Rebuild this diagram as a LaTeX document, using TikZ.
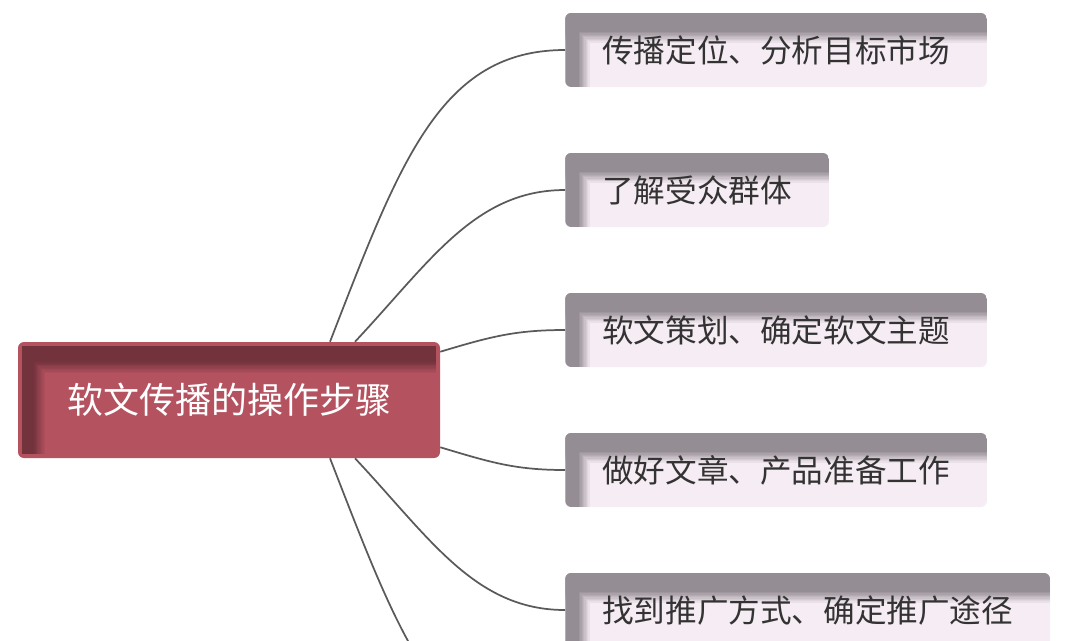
\documentclass[tikz,border=0pt]{standalone}
\usepackage{fontspec}
\setmainfont{Noto Sans CJK SC}
\usetikzlibrary{positioning}
\definecolor{rootfill}{HTML}{B4525F}
\definecolor{rootdark}{HTML}{72333D}
\definecolor{leaffill}{HTML}{F6ECF3}
\definecolor{leafgray}{HTML}{958D94}
\definecolor{leaftext}{HTML}{333333}
\definecolor{linkgray}{HTML}{5A5A5A}

\begin{document}
\begin{tikzpicture}[x=0.75pt, y=-0.75pt,
  root/.style={rounded corners=4.5pt, fill=rootfill, text=white, inner sep=0pt,
    minimum width=316.5pt, minimum height=87pt, font=\fontsize{27}{32}\selectfont,
    path picture={
      \foreach \k [evaluate=\k as \pct using int(100-11*\k)] in {0,...,8}
        \fill[rootdark!\pct!rootfill, sharp corners, blend mode=darken] ([xshift={(11+\k)*1pt},yshift=-3pt]path picture bounding box.north west) rectangle ([xshift={(12.3+\k)*1pt},yshift=3pt]path picture bounding box.south west);
      \foreach \k [evaluate=\k as \pct using int(100-11*\k)] in {0,...,8}
        \fill[rootdark!\pct!rootfill, sharp corners, blend mode=darken] ([xshift=3pt,yshift={-(14+\k)*1pt}]path picture bounding box.north west) rectangle ([xshift=-3pt,yshift={-(15.3+\k)*1pt}]path picture bounding box.north east);
      \fill[rootdark, sharp corners] ([xshift=3pt,yshift=-3pt]path picture bounding box.north west) rectangle ([xshift=11pt,yshift=3pt]path picture bounding box.south west);
      \fill[rootdark, sharp corners] ([xshift=3pt,yshift=-3pt]path picture bounding box.north west) rectangle ([xshift=-3pt,yshift=-14pt]path picture bounding box.north east);
    }},
  leaf/.style={rounded corners=4.5pt, fill=leaffill, text=leaftext, anchor=west,
    inner xsep=27.75pt, inner ysep=0pt, minimum height=55.5pt, font=\fontsize{23.7}{28}\selectfont,
    path picture={
      \foreach \k [evaluate=\k as \pct using int(100-11*\k)] in {0,...,8}
        \fill[leafgray!\pct!leaffill, sharp corners, blend mode=darken] ([xshift={(9+\k)*1pt}]path picture bounding box.north west) rectangle ([xshift={(10.3+\k)*1pt}]path picture bounding box.south west);
      \foreach \k [evaluate=\k as \pct using int(100-11*\k)] in {0,...,8}
        \fill[leafgray!\pct!leaffill, sharp corners, blend mode=darken] ([yshift={-(13+\k)*1pt}]path picture bounding box.north west) rectangle ([yshift={-(14.3+\k)*1pt}]path picture bounding box.north east);
      \fill[leafgray, sharp corners] (path picture bounding box.north west) rectangle ([xshift=9pt]path picture bounding box.south west);
      \fill[leafgray, sharp corners] (path picture bounding box.north west) rectangle ([yshift=-13pt]path picture bounding box.north east);
    }},
  link/.style={draw=linkgray, line width=1.3pt}]
  \useasboundingbox (0,0) rectangle (1069,640);

  \node[root] (root) at (229,400) {软文传播的操作步骤};
  \node[leaf] (s1) at (565,50) {传播定位、分析目标市场};
  \node[leaf] (s2) at (565,190) {了解受众群体};
  \node[leaf] (s3) at (565,330) {软文策划、确定软文主题};
  \node[leaf] (s4) at (565,470) {做好文章、产品准备工作};
  \node[leaf] (s5) at (565,610) {找到推广方式、确定推广途径};
  \coordinate (s6) at (565,751);

  % branches
  \draw[link] ([xshift=75.75pt]root.north) .. controls +(70,-180) and +(-125,0) .. (s1.west);
  \draw[link] ([xshift=94.5pt]root.north) .. controls +(75,-80) and +(-90,0) .. (s2.west);
  \draw[link] ([yshift=-7.5pt]root.north east) .. controls +(50,-15) and +(-50,0) .. (s3.west);
  \draw[link] ([yshift=8.25pt]root.south east) .. controls +(50,15) and +(-50,0) .. (s4.west);
  \draw[link] ([xshift=94.5pt]root.south) .. controls +(75,80) and +(-90,0) .. (s5.west);
  \draw[link] ([xshift=75.75pt]root.south) .. controls +(70,180) and +(-125,0) .. (s6);
\end{tikzpicture}
\end{document}
